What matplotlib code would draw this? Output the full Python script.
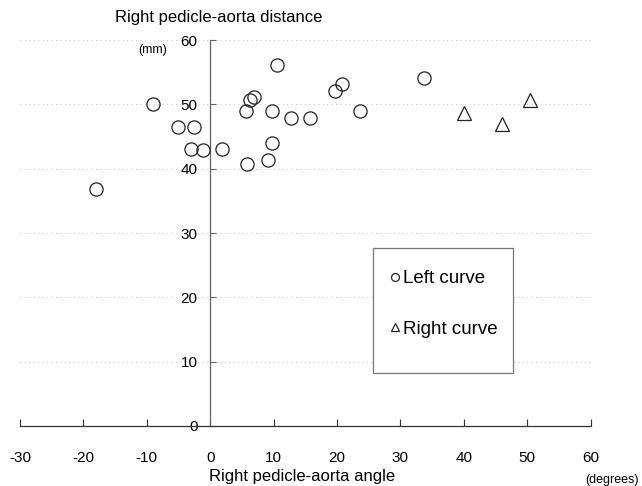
import numpy as np
import matplotlib.pyplot as plt
from matplotlib.patches import Rectangle

plt.rcParams['font.family'] = ['Liberation Sans', 'DejaVu Sans']
plt.rcParams['axes.unicode_minus'] = False

# Left curve (circles): angle in degrees, distance in mm
left_angle = [-18, -9, -5, -2.5, -3, -1.1, 1.9, 5.8, 5.7, 6.3, 6.9, 10.6,
              9.8, 9.8, 9.1, 12.8, 15.7, 19.7, 20.8, 23.6, 33.7]
left_dist = [36.9, 50.1, 46.5, 46.5, 43.1, 42.9, 43.1, 40.7, 49.0, 50.7, 51.2, 56.1,
             49.0, 44.0, 41.4, 47.9, 47.9, 52.1, 53.2, 49.0, 54.1]

# Right curve (triangles)
right_angle = [40.0, 46.0, 50.4]
right_dist = [48.7, 47.0, 50.7]

xticks = [-30, -20, -10, 0, 10, 20, 30, 40, 50, 60]
yticks = [0, 10, 20, 30, 40, 50, 60]

fig = plt.figure(figsize=(6.42, 4.86), dpi=100)
ax = fig.add_axes([0.031, 0.1235, 0.889, 0.794])

ax.plot(left_angle, left_dist, 'o', ms=9.5, mfc='none', mec='#222222', mew=0.9,
        label='Left curve', zorder=3)
ax.plot(right_angle, right_dist, '^', ms=10, mfc='none', mec='#222222', mew=0.9,
        label='Right curve', zorder=3)

ax.set_xlim(-30, 60)
ax.set_ylim(0, 60)
ax.set_xticks(xticks)
ax.set_yticks(yticks)

# axes cross at the origin
ax.spines['left'].set_position(('data', 0))
ax.spines['bottom'].set_position(('data', 0))
ax.spines['top'].set_visible(False)
ax.spines['right'].set_visible(False)
ax.spines['left'].set_color('#666666')
ax.spines['bottom'].set_color('#333333')
ax.spines['left'].set_linewidth(0.9)
ax.spines['bottom'].set_linewidth(0.9)

ax.tick_params(axis='x', direction='in', length=5, width=0.8, pad=18,
               labelsize=11, color='#333333')
ax.tick_params(axis='y', direction='in', length=4, width=0.8, pad=9,
               labelsize=11, color='#666666')

# faint dotted gridlines (from the scanned original)
ax.yaxis.grid(True, linestyle=(0, (1, 3)), color='#c8c8c8', lw=0.8)
ax.set_axisbelow(True)

# legend box
box = Rectangle((0.581, 0.2325), 0.218, 0.257, transform=fig.transFigure,
                facecolor='white', edgecolor='#777777', lw=0.9, zorder=5,
                clip_on=False)
ax.add_patch(box)
leg = ax.legend(loc='upper left', bbox_to_anchor=(0.593, 0.463),
                bbox_transform=fig.transFigure, frameon=False, fontsize=13.5,
                markerscale=0.6, handlelength=0.55, handletextpad=0.15,
                labelspacing=1.77, borderpad=0)
leg.set_zorder(6)

fig.text(0.179, 0.963, 'Right pedicle-aorta distance', fontsize=12, va='center', ha='left')
fig.text(0.238, 0.897, '(mm)', fontsize=9, va='center', ha='center')
fig.text(0.47, 0.019, 'Right pedicle-aorta angle', fontsize=12, va='center', ha='center')
fig.text(0.953, 0.012, '(degrees)', fontsize=9, va='center', ha='center')

plt.savefig('out.png', dpi=100)
